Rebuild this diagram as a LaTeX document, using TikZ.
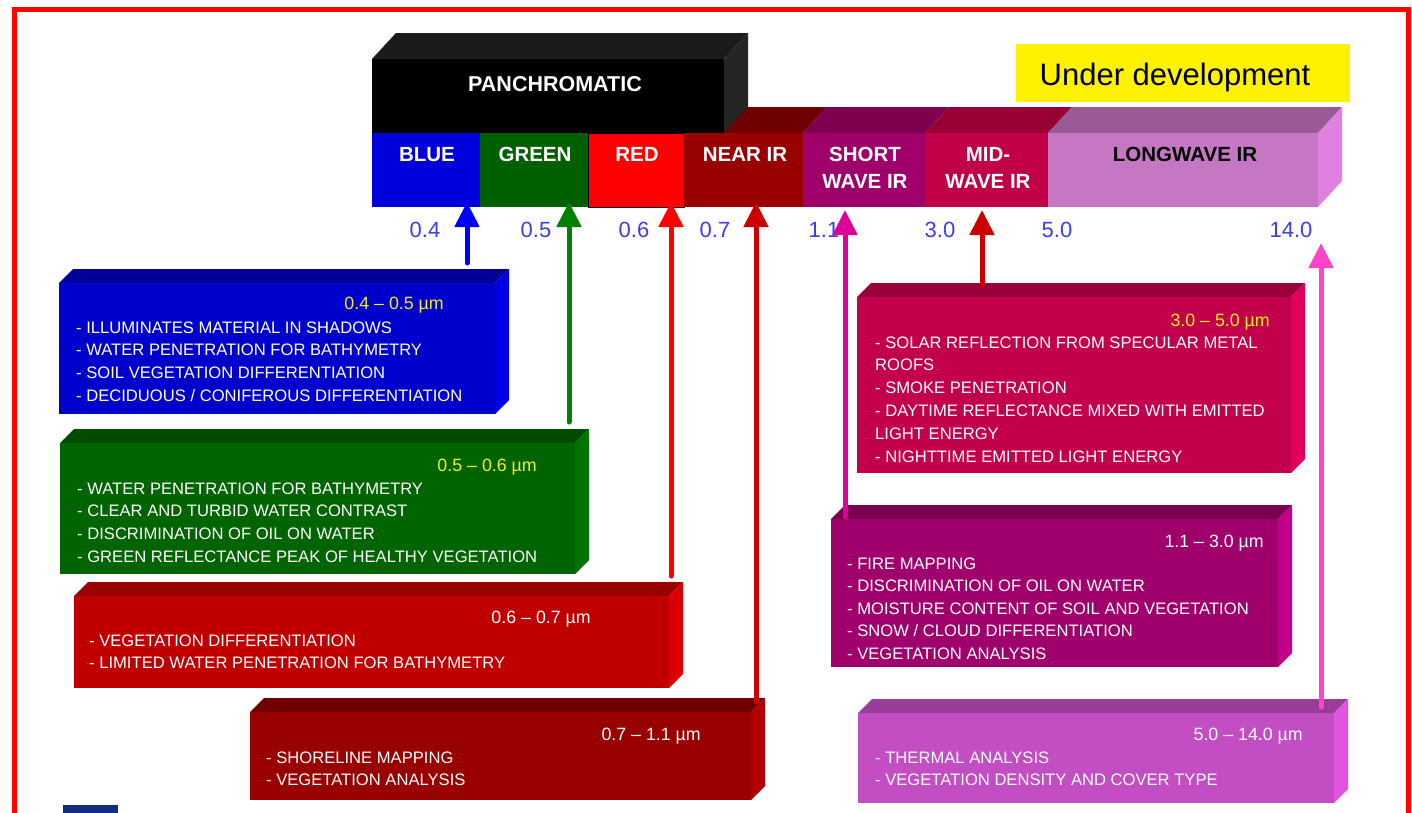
\documentclass[tikz,border=0pt]{standalone}
\usepackage{fontspec}
\setmainfont{Liberation Sans}
\usetikzlibrary{arrows.meta,calc}
\definecolor{blueF}{HTML}{0000CC}\definecolor{blueT}{HTML}{000099}\definecolor{blueS}{HTML}{0000E6}
\definecolor{greenF}{HTML}{006400}\definecolor{greenT}{HTML}{004C00}\definecolor{greenS}{HTML}{007300}
\definecolor{redF}{HTML}{C00000}\definecolor{redT}{HTML}{990000}\definecolor{redS}{HTML}{DD0000}
\definecolor{nirF}{HTML}{990000}\definecolor{nirT}{HTML}{700000}\definecolor{nirS}{HTML}{B00000}
\definecolor{midF}{HTML}{C2004C}\definecolor{midT}{HTML}{99003A}\definecolor{midS}{HTML}{E0005C}
\definecolor{swF}{HTML}{A0006C}\definecolor{swT}{HTML}{7A0050}\definecolor{swS}{HTML}{C0008A}
\definecolor{lwF}{HTML}{C34DC3}\definecolor{lwT}{HTML}{993D99}\definecolor{lwS}{HTML}{E055E0}
\definecolor{bBlue}{HTML}{0000DD}\definecolor{bGreen}{HTML}{006000}\definecolor{bRed}{HTML}{FF0000}
\definecolor{bNIR}{HTML}{990000}\definecolor{bSW}{HTML}{A0006A}\definecolor{bMW}{HTML}{C20048}
\definecolor{bLW}{HTML}{C577C4}
\definecolor{tNIR}{HTML}{700000}\definecolor{tSW}{HTML}{800050}\definecolor{tMW}{HTML}{990033}
\definecolor{tLW}{HTML}{995A95}\definecolor{sLW}{HTML}{E080E0}
\definecolor{panT}{HTML}{1A1A1A}\definecolor{panS}{HTML}{242424}
\definecolor{arrB}{HTML}{0000FF}\definecolor{arrG}{HTML}{008000}\definecolor{arrR}{HTML}{FF0000}
\definecolor{arrN}{HTML}{CC0000}\definecolor{arrS}{HTML}{DD0099}\definecolor{arrM}{HTML}{CC0000}
\definecolor{arrL}{HTML}{FF44CC}
\definecolor{numblue}{HTML}{3C3CF0}
\definecolor{rngyel}{HTML}{F0F020}
\definecolor{navy}{HTML}{122C80}
\definecolor{frame}{HTML}{FF0000}
\newcommand{\slab}[8]{%
  \fill[#7] (#2,#3) -- (#2+14,#3-14) -- (#4+14,#3-14) -- (#4,#3) -- cycle;
  \fill[#8] (#4,#3) -- (#4+14,#3-14) -- (#4+14,#5-14) -- (#4,#5) -- cycle;
  \node[face, fill=#6, minimum width={(#4-#2)*1pt}, minimum height={(#5-#3)*1pt}] (#1) at (#2,#3) {};
}
\newcommand{\itemlines}[5]{% name, x, first baseline, step, list
  \foreach \t [count=\i] in {#5}
    \node[item] (#1\i) at (#2,{#3+(\i-1)*#4}) {\t};
}
\begin{document}
\begin{tikzpicture}[x=1pt,y=-1pt,
  face/.style={inner sep=0pt, outer sep=0pt, anchor=north west, draw=none},
  bandtxt/.style={font=\fontsize{20.5}{24}\selectfont\bfseries, text=white, anchor=base, inner sep=0pt},
  num/.style={font=\fontsize{22}{24}\selectfont, text=numblue, anchor=base, inner sep=0pt},
  item/.style={font=\fontsize{16.6}{20}\selectfont, text=white, anchor=base west, inner sep=0pt},
  rng/.style={font=\fontsize{17.8}{20}\selectfont, anchor=base east, inner sep=0pt},
  arr/.style={line width=5pt, line cap=round, -{Triangle[length=25pt,width=24pt]}}]
\useasboundingbox (0,0) rectangle (1412,812);
\clip (0,0) rectangle (1412,812);
\fill[white] (0,0) rectangle (1412,812);

% ---------- spectrum bar ----------
\fill[tNIR] (684,133) -- (708,107) -- (827,107) -- (803,133) -- cycle;
\fill[tSW] (803,133) -- (827,107) -- (949,107) -- (925,133) -- cycle;
\fill[tMW] (925,133) -- (949,107) -- (1072,107) -- (1048,133) -- cycle;
\fill[tLW] (1048,133) -- (1072,107) -- (1342,107) -- (1318,133) -- cycle;
\fill[sLW] (1318,133) -- (1342,107) -- (1342,181) -- (1318,207) -- cycle;
\fill[panT] (372,59) -- (396,33) -- (748,33) -- (724,59) -- cycle;
\fill[panS] (724,59) -- (748,33) -- (748,107) -- (724,133) -- cycle;
\node[face, fill=black, minimum width=352pt, minimum height=74pt] (pan) at (372,59) {};
\node[bandtxt, font=\fontsize{21.5}{24}\selectfont\bfseries] (pant) at (555,91) {PANCHROMATIC};

\node[face, fill=bBlue, minimum width=108pt, minimum height=74pt] (bblue) at (372,133) {};
\node[face, fill=bGreen, minimum width=108pt, minimum height=74pt] (bgreen) at (480,133) {};
\node[face, fill=bRed, draw=black, line width=0.8pt, minimum width=96pt, minimum height=74pt] (bred) at (588,133) {};
\node[face, fill=bNIR, minimum width=119pt, minimum height=74pt] (bnir) at (684,133) {};
\node[face, fill=bSW, minimum width=122pt, minimum height=74pt] (bsw) at (803,133) {};
\node[face, fill=bMW, minimum width=123pt, minimum height=74pt] (bmw) at (925,133) {};
\node[face, fill=bLW, minimum width=270pt, minimum height=74pt] (blw) at (1048,133) {};

\node[bandtxt] (tblue) at (427,161) {BLUE};
\node[bandtxt] (tgreen) at (535,161) {GREEN};
\node[bandtxt] (tred) at (637,161) {RED};
\node[bandtxt] (tnir) at (745,161) {NEAR IR};
\node[bandtxt] (tsw1) at (865,161) {SHORT};
\node[bandtxt] (tsw2) at (865,188) {WAVE IR};
\node[bandtxt] (tmw1) at (988,161) {MID-};
\node[bandtxt] (tmw2) at (988,188) {WAVE IR};
\node[bandtxt, text=black] (tlw) at (1185,161) {LONGWAVE IR};

% ---------- wavelength numbers ----------
\node[num] (n04) at (425,237) {0.4};
\node[num] (n05) at (536,237) {0.5};
\node[num] (n06) at (634,237) {0.6};
\node[num] (n07) at (715,237) {0.7};
\node[num] (n11) at (824,237) {1.1};
\node[num] (n30) at (940,237) {3.0};
\node[num] (n50) at (1057,237) {5.0};
\node[num] (n140) at (1291,237) {14.0};

% ---------- under development ----------
\node[face, fill=yellow, minimum width=334pt, minimum height=58pt] (ud) at (1016,44) {};
\node[font=\fontsize{31}{34}\selectfont, anchor=base, inner sep=0pt] (udt) at (1175,85) {Under development};

% ---------- description boxes ----------
\slab{bluebox}{59}{283}{495}{414}{blueF}{blueT}{blueS}
\node[rng, text=rngyel] (bluer) at (444,309) {0.4 – 0.5 µm};
\itemlines{bluel}{76}{333}{22.7}{- ILLUMINATES MATERIAL IN SHADOWS,- WATER PENETRATION FOR BATHYMETRY,- SOIL VEGETATION DIFFERENTIATION,- DECIDUOUS / CONIFEROUS DIFFERENTIATION}

\slab{greenbox}{60}{443}{575}{574}{greenF}{greenT}{greenS}
\node[rng, text=rngyel] (greenr) at (537,471) {0.5 – 0.6 µm};
\itemlines{greenl}{77}{494}{22.7}{- WATER PENETRATION FOR BATHYMETRY,- CLEAR AND TURBID WATER CONTRAST,- DISCRIMINATION OF OIL ON WATER,- GREEN REFLECTANCE PEAK OF HEALTHY VEGETATION}

\slab{redbox}{74}{596}{669}{688}{redF}{redT}{redS}
\node[rng, text=white] (redr) at (591,623) {0.6 – 0.7 µm};
\itemlines{redl}{89}{646}{22.7}{- VEGETATION DIFFERENTIATION,- LIMITED WATER PENETRATION FOR BATHYMETRY}

\slab{nirbox}{250}{712}{751}{800}{nirF}{nirT}{nirS}
\node[rng, text=white] (nirr) at (701,740) {0.7 – 1.1 µm};
\itemlines{nirl}{266}{763}{22.7}{- SHORELINE MAPPING,- VEGETATION ANALYSIS}

\slab{midbox}{857}{297}{1291}{473}{midF}{midT}{midS}
\node[rng, text=rngyel] (midr) at (1270,326) {3.0 – 5.0 µm};
\itemlines{midl}{875}{348}{22.8}{- SOLAR REFLECTION FROM SPECULAR METAL,ROOFS,- SMOKE PENETRATION,- DAYTIME REFLECTANCE MIXED WITH EMITTED,LIGHT ENERGY,- NIGHTTIME EMITTED LIGHT ENERGY}

\slab{swbox}{831}{519}{1278}{667}{swF}{swT}{swS}
\node[rng, text=white] (swr) at (1264,547) {1.1 – 3.0 µm};
\itemlines{swl}{847}{569}{22.6}{- FIRE MAPPING,- DISCRIMINATION OF OIL ON WATER,- MOISTURE CONTENT OF SOIL AND VEGETATION,- SNOW / CLOUD DIFFERENTIATION,- VEGETATION ANALYSIS}

\slab{lwbox}{858}{713}{1334}{803}{lwF}{lwT}{lwS}
\node[rng, text=white] (lwr) at (1303,740) {5.0 – 14.0 µm};
\itemlines{lwl}{875}{763}{22.5}{- THERMAL ANALYSIS,- VEGETATION DENSITY AND COVER TYPE}

% ---------- arrows ----------
\coordinate (aB0) at (467,263); \coordinate (aB1) at (467,202);
\coordinate (aG0) at (569,422); \coordinate (aG1) at (569,202);
\coordinate (aR0) at (671,576); \coordinate (aR1) at (671,202);
\coordinate (aN0) at (756,702); \coordinate (aN1) at (756,202);
\coordinate (aS0) at (845,517); \coordinate (aS1) at (845,210);
\coordinate (aM0) at (982,285); \coordinate (aM1) at (982,210);
\coordinate (aL0) at (1321,707); \coordinate (aL1) at (1321,243);
\draw[arr, arrB] (aB0) -- (aB1);
\draw[arr, arrG] (aG0) -- (aG1);
\draw[arr, arrR] (aR0) -- (aR1);
\draw[arr, arrN] (aN0) -- (aN1);
\draw[arr, arrS] (aS0) -- (aS1);
\draw[arr, arrM] (aM0) -- (aM1);
\draw[arr, arrL] (aL0) -- (aL1);

% ---------- frame and logo fragment ----------
\fill[navy] (63,805) rectangle (118,815);
\draw[frame, line width=5pt] (14,9) rectangle (1408.5,840);
\end{tikzpicture}
\end{document}
